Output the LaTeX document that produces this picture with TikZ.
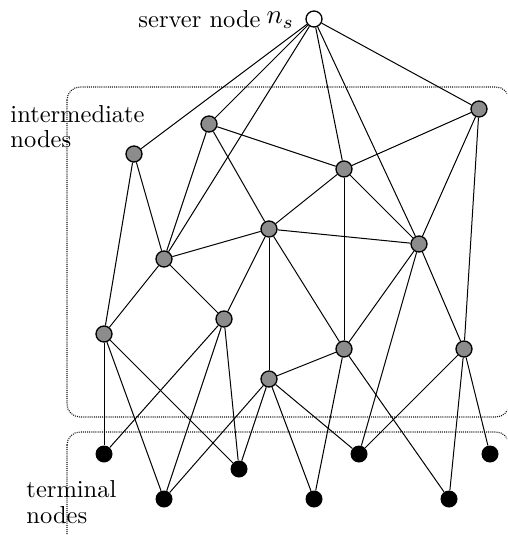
\documentclass[tikz,border=0pt]{standalone}
\definecolor{midgray}{RGB}{140,140,140}
\definecolor{boxgray}{RGB}{20,20,20}
\begin{document}
\begin{tikzpicture}[x=1pt,y=-1pt,
  mid/.style={circle, draw=black, line width=1.3pt, fill=midgray, minimum size=16pt, inner sep=0pt},
  term/.style={circle, fill=black, minimum size=17pt, inner sep=0pt},
  srv/.style={circle, draw=black, line width=1.3pt, fill=white, minimum size=16pt, inner sep=0pt},
  link/.style={line width=1pt},
  region/.style={draw=boxgray, dash pattern=on 1pt off 1.1pt, line width=1.1pt, rounded corners=13pt},
  lbl/.style={font=\fontsize{10}{12}\selectfont, scale=2.45, inner sep=0pt, anchor=base west}]
\path[use as bounding box] (0,0) rectangle (507,535);
\clip (0,0) rectangle (507,535);

% dotted regions
\draw[region] (67,87) rectangle (509,417);
\draw[region] (67,432) rectangle (509,570);

% server
\node[srv] (S) at (314,19) {};

% intermediate nodes
\node[mid] (A) at (209,124) {};
\node[mid] (B) at (479,109) {};
\node[mid] (C) at (134,154) {};
\node[mid] (D) at (344,169) {};
\node[mid] (E) at (269,229) {};
\node[mid] (F) at (419,244) {};
\node[mid] (G) at (164,259) {};
\node[mid] (H) at (104,334) {};
\node[mid] (I) at (224,319) {};
\node[mid] (J) at (344,349) {};
\node[mid] (K) at (464,349) {};
\node[mid] (L) at (269,379) {};

% terminal nodes
\node[term] (T1) at (104,454) {};
\node[term] (T2) at (239,469) {};
\node[term] (T3) at (359,454) {};
\node[term] (T4) at (490,454) {};
\node[term] (T5) at (164,499) {};
\node[term] (T6) at (314,499) {};
\node[term] (T7) at (449,499) {};

% links
\foreach \a/\b in {S/C,S/A,S/G,S/D,S/F,S/B,
  A/D,A/G,A/E, B/D,B/F,B/K, C/H,C/G, D/E,D/J,D/F,
  G/E,G/H,G/I, E/F,E/I,E/L,E/J, F/J,F/T3,F/K,
  K/T3,K/T7,K/T4, H/T1,H/T5,H/T2, I/T1,I/T5,I/T2,
  L/J,L/T5,L/T2,L/T6,L/T3, J/T6,J/T7}
  \draw[link] (\a) -- (\b);

% labels
\node[lbl] (lsrv) at (138,28) {server node};
\node[lbl, scale=1.1] (lns) at (266,24) {$n_s$};
\node[lbl] (lint1) at (10,122) {intermediate};
\node[lbl] (lint2) at (10,147) {nodes};
\node[lbl] (lter1) at (26,497) {terminal};
\node[lbl] (lter2) at (26,523) {nodes};
\end{tikzpicture}
\end{document}
